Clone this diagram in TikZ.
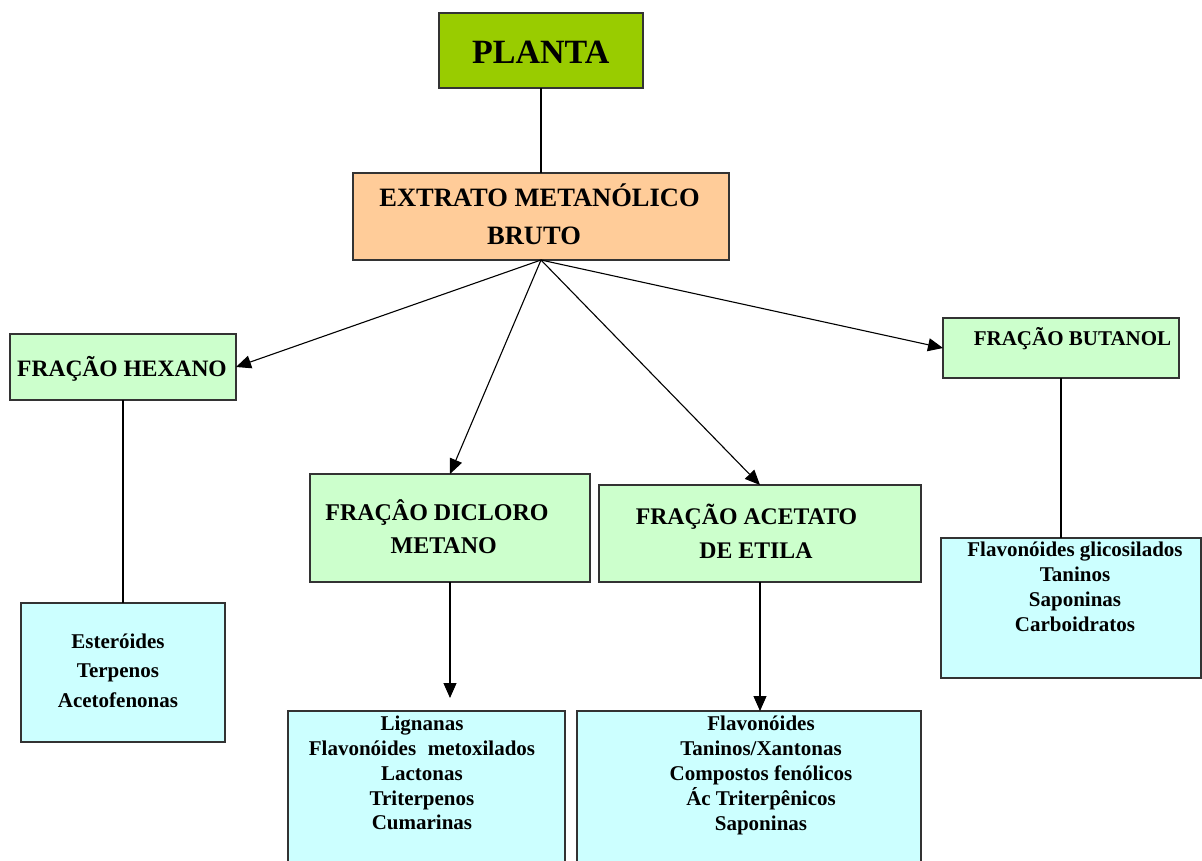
\documentclass[tikz,border=0pt]{standalone}
\usepackage{fontspec}
\setmainfont{Liberation Serif}
\usetikzlibrary{arrows.meta}

\definecolor{plantfill}{HTML}{99CC00}
\definecolor{extractfill}{HTML}{FFCC99}
\definecolor{fractionfill}{HTML}{CCFFCC}
\definecolor{classfill}{HTML}{CCFFFF}
\definecolor{boxline}{HTML}{333333}

\newcommand{\lines}[2]{{\fontsize{#1}{#1}\selectfont\bfseries\setlength{\tabcolsep}{0pt}%
  \begin{tabular}[t]{c}#2\end{tabular}}}

\begin{document}
\begin{tikzpicture}[x=1pt,y=-1pt,
  box/.style={draw=boxline,line width=1.4pt,inner sep=0pt,outer sep=0pt},
  plantbox/.style={box,fill=plantfill},
  extractbox/.style={box,fill=extractfill},
  fractionbox/.style={box,fill=fractionfill},
  classbox/.style={box,fill=classfill},
  label/.style={inner sep=0pt,outer sep=0pt,anchor=base},
  link/.style={line width=1.1pt,draw=black},
  arr/.style={link,-{Triangle[length=15pt,width=13pt]}}]
\useasboundingbox (0,0) rectangle (1202,860);
\clip (0,0) rectangle (1202,860);
\fill[white] (0,0) rectangle (1202,860);

% boxes
\node[plantbox,minimum width=204pt,minimum height=75pt] (planta) at (541,50.5) {};
\node[extractbox,minimum width=376pt,minimum height=87pt] (extrato) at (541,216.5) {};
\node[fractionbox,minimum width=226pt,minimum height=66pt] (hexano) at (123,367) {};
\node[fractionbox,minimum width=236pt,minimum height=60pt] (butanol) at (1061,348) {};
\node[fractionbox,minimum width=280pt,minimum height=108pt] (dicloro) at (450,528) {};
\node[fractionbox,minimum width=322pt,minimum height=97pt] (acetato) at (760,533.5) {};
\node[classbox,minimum width=204pt,minimum height=139pt] (hexbot) at (123,672.5) {};
\node[classbox,minimum width=277pt,minimum height=169pt] (dicbot) at (426.5,795.5) {};
\node[classbox,minimum width=344pt,minimum height=169pt] (acebot) at (749,795.5) {};
\node[classbox,minimum width=260pt,minimum height=140pt] (butbot) at (1071,608) {};

% texts
\node[label] (plantaT) at (540.7,63.8) {\lines{34}{PLANTA}};
\node[label] (extratoT) at (539.5,206.3) {\fontsize{26.5}{38.5}\selectfont\bfseries\setlength{\tabcolsep}{0pt}%
  \begin{tabular}[t]{c}EXTRATO METANÓLICO\\ BRUTO\hspace*{11pt}\end{tabular}};
\node[label] (hexanoT) at (122,376.8) {\lines{23.5}{FRAÇÃO HEXANO}};
\node[label] (butanolT) at (1072.5,345) {\lines{21}{FRAÇÃO BUTANOL}};
\node[label] (dicloroT) at (443.7,520) {\fontsize{24}{33}\selectfont\bfseries\setlength{\tabcolsep}{0pt}%
  \begin{tabular}[t]{c}FRAÇÂO DICLORO\hspace*{13.4pt}\\ METANO\end{tabular}};
\node[label] (acetatoT) at (756,524.4) {\fontsize{23.8}{34.5}\selectfont\bfseries\setlength{\tabcolsep}{0pt}%
  \begin{tabular}[t]{c}FRAÇÃO ACETATO\hspace*{19pt}\\ DE ETILA\end{tabular}};
\node[label] (hexbotT) at (118,648) {\fontsize{21}{29.5}\selectfont\bfseries\setlength{\tabcolsep}{0pt}%
  \begin{tabular}[t]{c}Esteróides\\ Terpenos\\ Acetofenonas\end{tabular}};
\node[label] (dicbotT) at (422,730.7) {\fontsize{21}{24.8}\selectfont\bfseries\setlength{\tabcolsep}{0pt}%
  \begin{tabular}[t]{c}Lignanas\\ Flavonóides\hspace{0.3em} metoxilados\\ Lactonas\\ Triterpenos\\ Cumarinas\end{tabular}};
\node[label] (acebotT) at (761,730.7) {\fontsize{21}{24.8}\selectfont\bfseries\setlength{\tabcolsep}{0pt}%
  \begin{tabular}[t]{c}Flavonóides\\ Taninos/Xantonas\\ Compostos fenólicos\\ Ác Triterpênicos\\ Saponinas\end{tabular}};
\node[label] (butbotT) at (1075,556.7) {\fontsize{21}{24.8}\selectfont\bfseries\setlength{\tabcolsep}{0pt}%
  \begin{tabular}[t]{c}Flavonóides glicosilados\\ Taninos\\ Saponinas\\ Carboidratos\end{tabular}};

% connectors
\draw[link] (planta.south) -- (extrato.north);
\draw[arr] (extrato.south) -- (hexano.east);
\draw[arr] (extrato.south) -- (dicloro.north);
\draw[arr] (extrato.south) -- (acetato.north);
\draw[arr] (extrato.south) -- (butanol.west);
\draw[link] (hexano.south) -- (hexbot.north);
\draw[link] (butanol.south) -- (butanol.south |- butbot.north);
\coordinate (dictip) at (450,698);
\draw[arr] (dicloro.south) -- (dictip);
\draw[arr] (acetato.south) -- (acetato.south |- acebot.north);
\end{tikzpicture}
\end{document}
